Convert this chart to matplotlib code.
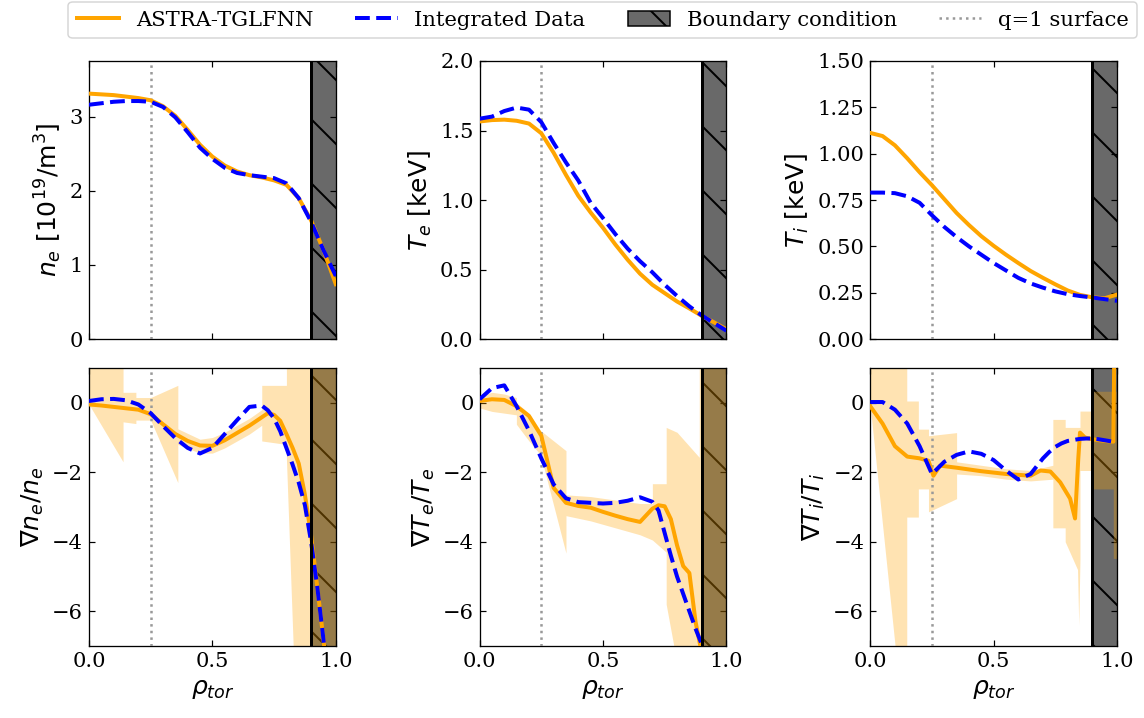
import matplotlib
matplotlib.use("Agg")
import matplotlib.pyplot as plt
from matplotlib.lines import Line2D
from matplotlib.patches import Patch

# The hatch tile in Agg is one inch, so a high dpi gives the sparse hatch of the original.
DPI = 384
PX = 72 / DPI  # points per output pixel

# ---- profiles (top row) ----
rho = [0.0, 0.05, 0.1, 0.15, 0.2, 0.25, 0.3, 0.35, 0.4, 0.45, 0.5,
       0.55, 0.6, 0.65, 0.7, 0.75, 0.8, 0.85, 0.9, 0.95, 1.0]
ne_model = [3.31, 3.30, 3.29, 3.27, 3.25, 3.22, 3.14, 3.01, 2.82, 2.62, 2.46,
            2.34, 2.26, 2.21, 2.18, 2.14, 2.08, 1.90, 1.60, 1.20, 0.74]
ne_data = [3.16, 3.18, 3.20, 3.21, 3.21, 3.20, 3.13, 2.99, 2.79, 2.58, 2.43,
           2.31, 2.24, 2.21, 2.19, 2.17, 2.10, 1.90, 1.58, 1.20, 0.85]
te_model = [1.565, 1.575, 1.578, 1.57, 1.55, 1.48, 1.34, 1.18, 1.03, 0.91, 0.80,
            0.68, 0.57, 0.47, 0.39, 0.33, 0.27, 0.22, 0.167, 0.12, 0.07]
te_data = [1.585, 1.60, 1.64, 1.665, 1.65, 1.56, 1.41, 1.27, 1.14, 0.98, 0.87,
           0.755, 0.65, 0.56, 0.48, 0.39, 0.31, 0.235, 0.17, 0.115, 0.06]
ti_model = [1.112, 1.095, 1.045, 0.975, 0.90, 0.83, 0.755, 0.68, 0.615, 0.555, 0.503,
            0.455, 0.41, 0.367, 0.33, 0.295, 0.262, 0.238, 0.225, 0.22, 0.24]
ti_data = [0.79, 0.79, 0.787, 0.77, 0.735, 0.668, 0.605, 0.55, 0.50, 0.455, 0.41,
           0.37, 0.33, 0.30, 0.277, 0.257, 0.242, 0.232, 0.224, 0.215, 0.206]

# ---- normalised gradients (bottom row) ----
rho_g = [0.0, 0.05, 0.1, 0.15, 0.2, 0.25, 0.3, 0.35, 0.4, 0.45, 0.5, 0.55, 0.6, 0.65, 0.7,
         0.725, 0.75, 0.775, 0.8, 0.825, 0.85, 0.875, 0.9, 0.925, 0.95, 0.975, 1.0]
dne_model = [-0.05, -0.08, -0.12, -0.16, -0.2, -0.33, -0.62, -0.9, -1.1, -1.23, -1.24,
             -1.08, -0.87, -0.66, -0.42, -0.30, -0.35, -0.52, -0.9, -1.3, -1.75, -2.65,
             -3.81, -5.3, -6.8, -8.5, -10.0]
dne_data = [0.05, 0.1, 0.11, 0.07, -0.05, -0.3, -0.67, -1.02, -1.3, -1.46, -1.3,
            -0.9, -0.5, -0.12, -0.08, -0.22, -0.45, -0.82, -1.3, -1.78, -2.3, -2.95,
            -4.0, -5.3, -6.8, -8.5, -10.0]
dte_model = [0.05, 0.1, 0.08, -0.1, -0.38, -0.95, -2.45, -2.88, -2.97, -3.02, -3.14,
             -3.25, -3.35, -3.43, -3.05, -2.95, -2.98, -3.35, -4.1, -4.7, -4.9, -6.3,
             -7.2, -8.0, -8.0, -8.0, -8.0]
dte_data = [0.1, 0.42, 0.5, -0.1, -0.8, -1.6, -2.35, -2.75, -2.86, -2.88, -2.9,
            -2.88, -2.82, -2.72, -2.85, -3.1, -3.75, -4.4, -5.0, -5.5, -6.0, -6.5,
            -6.95, -8.0, -8.0, -8.0, -8.0]
dti_data = [0.02, 0.02, -0.2, -0.6, -1.25, -2.05, -1.7, -1.5, -1.4, -1.47, -1.65,
            -1.95, -2.21, -2.05, -1.6, -1.42, -1.27, -1.17, -1.1, -1.07, -1.04, -1.03,
            -1.03, -1.05, -1.08, -1.11, -1.14]
rho_dti_model = [0.0, 0.05, 0.1, 0.15, 0.2, 0.236, 0.256, 0.283, 0.35, 0.45, 0.55, 0.65,
                 0.69, 0.73, 0.77, 0.81, 0.83, 0.843, 0.85, 0.87, 0.9, 0.95, 0.985, 0.99, 1.0]
dti_model = [-0.1, -0.6, -1.25, -1.55, -1.6, -1.67, -2.1, -1.81, -1.87, -1.97, -2.05, -2.1,
             -1.95, -1.98, -2.29, -2.76, -3.33, -1.62, -0.86, -1.0, -1.05, -1.1, -1.12, 2.0, 2.0]

# ---- model uncertainty bands ----
band_ne_rho = [0.0, 0.138, 0.138, 0.19, 0.19, 0.25, 0.36, 0.36, 0.45, 0.5, 0.55, 0.6,
               0.65, 0.70, 0.70, 0.80, 0.80, 0.83, 1.0]
band_ne_lo = [-0.05, -1.7, -0.55, -0.6, -0.5, -0.5, -2.3, -1.2, -1.45, -1.45, -1.3, -1.1,
              -0.9, -0.65, -1.1, -1.2, -1.6, -7.5, -7.5]
band_ne_hi = [1.5, 1.5, 0.3, 0.3, 0.15, 0.15, 0.5, -0.75, -1.05, -1.0, -0.85, -0.65,
              -0.45, -0.2, 0.5, 0.5, 1.5, 1.5, 1.5]
band_te_rho = [0.0, 0.05, 0.1, 0.149, 0.149, 0.2, 0.247, 0.35, 0.35, 0.45, 0.55, 0.65,
               0.70, 0.70, 0.756, 0.756, 0.8, 0.89, 0.89, 1.0]
band_te_lo = [-0.15, -0.25, -0.3, -0.35, -0.62, -1.1, -1.5, -4.33, -3.25, -3.4, -3.6, -3.8,
              -3.95, -3.95, -4.3, -5.8, -7.5, -7.5, -7.5, -7.5]
band_te_hi = [0.2, 0.3, 0.25, 0.15, 0.0, -0.3, -0.8, -1.38, -2.65, -2.7, -2.8, -2.9,
              -2.9, -2.33, -2.33, -0.71, -0.85, -1.57, 1.5, 1.5]
band_ti_rho = [0.0, 0.108, 0.148, 0.148, 0.195, 0.195, 0.236, 0.236, 0.35, 0.35, 0.45, 0.55,
               0.65, 0.74, 0.74, 0.79, 0.79, 0.84, 0.845, 0.85, 0.85, 0.9, 0.9, 0.985, 0.985, 1.0]
band_ti_lo = [-0.1, -7.5, -7.5, -3.29, -3.29, -2.48, -2.48, -3.14, -2.76, -2.05, -2.1, -2.2,
              -2.25, -2.2, -3.6, -3.6, -4.0, -4.8, -6.4, -4.5, -1.95, -1.95, -2.48, -2.48,
              -4.48, -4.48]
band_ti_hi = [1.5, 1.5, 1.5, 0.05, 0.05, -0.76, -0.76, -0.95, -0.86, -1.7, -1.8, -1.9,
              -1.95, -1.8, -0.48, -0.48, -0.71, -0.71, -0.71, -0.71, -0.24, -0.24, 0.33, 0.33,
              0.33, 0.33]

Q1_RHO = 0.25
BC_RHO = 0.9

plt.rcParams.update({
    "font.family": "DejaVu Serif",
    "font.size": 21 * PX,
    "axes.linewidth": 1.3 * PX,
    "axes.labelpad": 6 * PX,
    "xtick.direction": "in",
    "ytick.direction": "in",
    "xtick.top": True,
    "ytick.right": True,
    "xtick.major.size": 6 * PX,
    "ytick.major.size": 6 * PX,
    "xtick.major.width": 1.2 * PX,
    "ytick.major.width": 1.2 * PX,
    "xtick.major.pad": 6 * PX,
    "ytick.major.pad": 6 * PX,
    "lines.linewidth": 4 * PX,
    "patch.linewidth": 1.5 * PX,
    "hatch.linewidth": 2 * PX,
    "legend.fontsize": 21.1 * PX,
})

fig, axes = plt.subplots(2, 3, figsize=(1144 / DPI, 718 / DPI), dpi=DPI, sharex=True)
fig.subplots_adjust(left=89 / 1144, right=1117 / 1144, top=1 - 61 / 718,
                    bottom=1 - 646 / 718, wspace=144 / 247, hspace=29 / 278.5)

LABEL_KW = dict(fontfamily="DejaVu Sans", fontsize=25 * PX)
HATCH = "\\\\"

panels = [
    (axes[0, 0], rho, ne_model, rho, ne_data, None, r"$n_e$ [10$^{19}$/m$^3$]", (0, 3.75), [0, 1, 2, 3]),
    (axes[0, 1], rho, te_model, rho, te_data, None, r"$T_e$ [keV]", (0, 2.0), [0, 0.5, 1.0, 1.5, 2.0]),
    (axes[0, 2], rho, ti_model, rho, ti_data, None, r"$T_i$ [keV]", (0, 1.5),
     [0, 0.25, 0.5, 0.75, 1.0, 1.25, 1.5]),
    (axes[1, 0], rho_g, dne_model, rho_g, dne_data, (band_ne_rho, band_ne_lo, band_ne_hi),
     r"$\nabla n_e/n_e$", (-7, 1), [-6, -4, -2, 0]),
    (axes[1, 1], rho_g, dte_model, rho_g, dte_data, (band_te_rho, band_te_lo, band_te_hi),
     r"$\nabla T_e/T_e$", (-7, 1), [-6, -4, -2, 0]),
    (axes[1, 2], rho_dti_model, dti_model, rho_g, dti_data, (band_ti_rho, band_ti_lo, band_ti_hi),
     r"$\nabla T_i/T_i$", (-7, 1), [-6, -4, -2, 0]),
]

for ax, xm, ym, xd, yd, band, ylabel, ylim, yticks in panels:
    ax.axvspan(BC_RHO, 1.0, facecolor="dimgray", edgecolor="black", linewidth=0,
               hatch=HATCH, zorder=1)
    if band is not None:
        ax.fill_between(band[0], band[1], band[2], color="orange", alpha=0.3,
                        linewidth=0, zorder=2)
    ax.axvline(Q1_RHO, color="0.6", linestyle=":", linewidth=2.5 * PX, zorder=3)
    ax.plot(xm, ym, color="orange", linewidth=4 * PX, zorder=4)
    ax.plot(xd, yd, color="blue", linestyle="--", linewidth=4 * PX, zorder=5)
    ax.axvline(BC_RHO, color="black", linewidth=3 * PX, zorder=6)
    ax.set_xlim(0, 1)
    ax.set_ylim(*ylim)
    ax.set_yticks(yticks)
    ax.set_xticks([0, 0.5, 1.0])
    ax.set_ylabel(ylabel, **LABEL_KW)

for ax in axes[1]:
    ax.set_xlabel(r"$\rho_{tor}$", **LABEL_KW)

handles = [
    Line2D([], [], color="orange", linewidth=4 * PX),
    Line2D([], [], color="blue", linestyle="--", linewidth=4 * PX),
    Patch(facecolor="dimgray", edgecolor="black", hatch=HATCH),
    Line2D([], [], color="0.6", linestyle=":", linewidth=2.5 * PX),
]
labels = ["ASTRA-TGLFNN", "Integrated Data", "Boundary condition", "q=1 surface"]
fig.legend(handles, labels, loc="upper center", bbox_to_anchor=(0.527, 1.0), ncol=4,
           borderaxespad=0.1, frameon=True)

fig.savefig("out.png", dpi=DPI)
